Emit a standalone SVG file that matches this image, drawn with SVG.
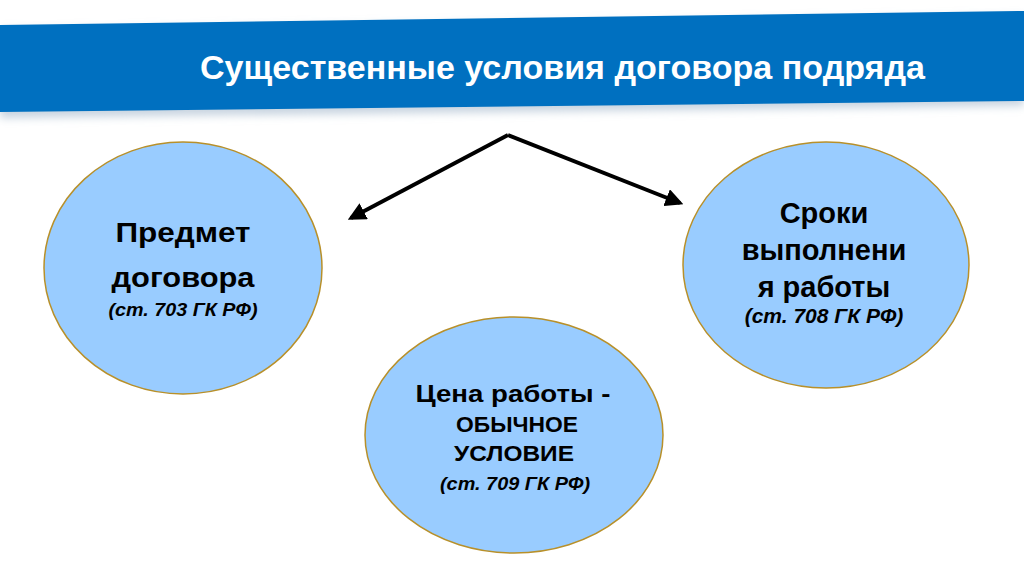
<svg xmlns="http://www.w3.org/2000/svg" width="1024" height="574" viewBox="0 0 1024 574">
<style>
.node ellipse{fill:#99CCFF;stroke:#B8902A;stroke-width:1.5}
.t{font-family:"Liberation Sans",Arial,sans-serif;font-weight:bold;fill:#000;text-anchor:middle}
.ref{font-family:"Liberation Sans",Arial,sans-serif;font-weight:bold;font-style:italic;fill:#000;text-anchor:middle}
.title{font-family:"Liberation Sans",Arial,sans-serif;font-weight:bold;fill:#fff;font-size:33px}
.conn line{stroke:#000;stroke-width:4;marker-end:url(#ah)}
</style>
<defs>
<marker id="ah" viewBox="0 0 10 10" refX="8" refY="5" markerWidth="4.5" markerHeight="4.5" orient="auto" markerUnits="strokeWidth">
<path d="M0,0 L10,5 L0,10 z" fill="#000"/>
</marker>
<filter id="sh" x="-5%" y="-20%" width="110%" height="160%">
<feGaussianBlur stdDeviation="4"/>
</filter>
</defs>
<rect width="1024" height="574" fill="#fff"/>
<g id="banner">
<polygon points="0,30 1024,16 1024,106 0,118" fill="#c8d4e0" filter="url(#sh)"/>
<polygon points="0,25 1024,11 1024,101 0,112" fill="#0070C0"/>
<text class="title" x="200" y="79" textLength="725" lengthAdjust="spacingAndGlyphs">Существенные условия договора подряда</text>
</g>
<g class="conn" id="connectors">
<line x1="508" y1="135" x2="351" y2="218"/>
<line x1="508" y1="135" x2="680" y2="203"/>
</g>
<g class="node" id="node-predmet">
<ellipse cx="183" cy="268" rx="139" ry="126"/>
<text class="t" x="183" y="242" font-size="27" textLength="135" lengthAdjust="spacingAndGlyphs">Предмет</text>
<text class="t" x="183" y="287" font-size="27" textLength="143" lengthAdjust="spacingAndGlyphs">договора</text>
<text class="ref" x="183" y="316" font-size="19" textLength="149" lengthAdjust="spacingAndGlyphs">(ст. 703 ГК РФ)</text>
</g>
<g class="node" id="node-sroki">
<ellipse cx="826" cy="265" rx="143" ry="123"/>
<text class="t" x="824" y="223" font-size="29">Сроки</text>
<text class="t" x="824" y="260" font-size="29">выполнени</text>
<text class="t" x="824" y="297" font-size="29">я работы</text>
<text class="ref" x="824" y="323" font-size="21">(ст. 708 ГК РФ)</text>
</g>
<g class="node" id="node-cena">
<ellipse cx="514" cy="435" rx="149" ry="118"/>
<text class="t" x="513" y="402" font-size="24" textLength="195" lengthAdjust="spacingAndGlyphs">Цена работы -</text>
<text class="t" x="517" y="432" font-size="22" textLength="122" lengthAdjust="spacingAndGlyphs">ОБЫЧНОЕ</text>
<text class="t" x="514" y="461" font-size="22" textLength="120" lengthAdjust="spacingAndGlyphs">УСЛОВИЕ</text>
<text class="ref" x="515" y="490" font-size="19" textLength="150" lengthAdjust="spacingAndGlyphs">(ст. 709 ГК РФ)</text>
</g>
</svg>
